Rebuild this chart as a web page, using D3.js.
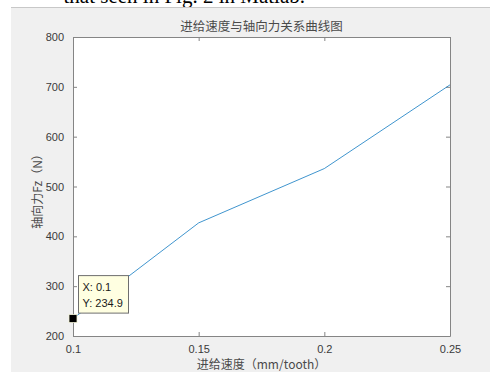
<!DOCTYPE html>
<html>
<head>
<meta charset="utf-8">
<script src="https://cdn.jsdelivr.net/npm/d3@7"></script>
<style>
  html, body { margin: 0; padding: 0; background: #ffffff; }
  svg { display: block; }
</style>
</head>
<body>
<svg id="chart" width="490" height="373"></svg>
<script>
// Feed rate (mm/tooth) against axial force Fz (N)
const feedRates = [0.1, 0.15, 0.2, 0.25];
const axialForce = [234.9, 427, 536, 704];
const xTickValues = [0.1, 0.15, 0.2, 0.25];
const yTickValues = [200, 300, 400, 500, 600, 700, 800];
const titleText = "进给速度与轴向力关系曲线图";
const xLabelText = "进给速度（mm/tooth）";
const yLabelText = "轴向力Fz（N）";
const tipIndex = 0;

const svg = d3.select("#chart");
const W = 490, H = 373;
const plot = { left: 73, right: 450, top: 37, bottom: 336 };
const axisColor = "#858585";
const textColor = "#3a3a3a";
const font = "Helvetica, Arial, 'Liberation Sans', sans-serif";
const cjk = "'Noto Sans CJK SC', sans-serif";

// page strip above the figure window
svg.append("text")
  .attr("x", 305).attr("y", 3)
  .attr("text-anchor", "end")
  .attr("font-family", "'Liberation Serif', 'Times New Roman', serif")
  .attr("font-size", 21)
  .attr("fill", "#000")
  .text("that seen in Fig. 2 in Matlab.");

// figure window background
svg.append("line")
  .attr("x1", 11).attr("x2", W).attr("y1", 7.5).attr("y2", 7.5)
  .attr("stroke", "#c8c8c8");
svg.append("rect")
  .attr("x", 11).attr("y", 8).attr("width", W - 11).attr("height", H - 9)
  .attr("fill", "#f0f0f0");

const x = d3.scaleLinear().domain([0.1, 0.25]).range([plot.left, plot.right]);
const y = d3.scaleLinear().domain([200, 800]).range([plot.bottom, plot.top]);

// axes area
svg.append("rect")
  .attr("x", plot.left).attr("y", plot.top)
  .attr("width", plot.right - plot.left).attr("height", plot.bottom - plot.top)
  .attr("fill", "#ffffff");

const tickLen = 4;
function styleAxis(g) {
  g.select(".domain").attr("stroke", axisColor);
  g.selectAll(".tick line").attr("stroke", axisColor);
  g.selectAll(".tick text")
    .attr("fill", textColor)
    .attr("font-family", font)
    .attr("font-size", 11);
}

const fmt = d => String(d);

svg.append("g")
  .attr("transform", `translate(0,${plot.bottom})`)
  .call(d3.axisBottom(x).tickValues(xTickValues).tickFormat(fmt)
    .tickSizeInner(-tickLen).tickSizeOuter(0).tickPadding(9))
  .call(styleAxis);

svg.append("g")
  .attr("transform", `translate(0,${plot.top})`)
  .call(d3.axisTop(x).tickValues(xTickValues).tickFormat("")
    .tickSizeInner(-tickLen).tickSizeOuter(0))
  .call(styleAxis);

svg.append("g")
  .attr("transform", `translate(${plot.left},0)`)
  .call(d3.axisLeft(y).tickValues(yTickValues).tickFormat(fmt)
    .tickSizeInner(-tickLen).tickSizeOuter(0).tickPadding(9))
  .call(styleAxis);

svg.append("g")
  .attr("transform", `translate(${plot.right},0)`)
  .call(d3.axisRight(y).tickValues(yTickValues).tickFormat("")
    .tickSizeInner(-tickLen).tickSizeOuter(0))
  .call(styleAxis);

svg.selectAll(".domain").attr("stroke-width", 1);

// data line
const pts = feedRates.map((f, i) => [f, axialForce[i]]);
svg.append("path")
  .datum(pts)
  .attr("fill", "none")
  .attr("stroke", "#0072bd")
  .attr("stroke-opacity", 0.75)
  .attr("stroke-width", 1)
  .attr("d", d3.line().x(d => x(d[0])).y(d => y(d[1])));

// title and axis labels
svg.append("text")
  .attr("x", (plot.left + plot.right) / 2).attr("y", 31)
  .attr("text-anchor", "middle")
  .attr("font-family", cjk).attr("font-size", 12.5)
  .attr("fill", "#4a4a4a")
  .text(titleText);

svg.append("text")
  .attr("x", (plot.left + plot.right) / 2).attr("y", 369)
  .attr("text-anchor", "middle")
  .attr("font-family", cjk).attr("font-size", 12)
  .attr("fill", "#4a4a4a")
  .text(xLabelText);

svg.append("text")
  .attr("transform", `translate(42,${(plot.top + plot.bottom) / 2 + 2}) rotate(-90)`)
  .attr("text-anchor", "middle")
  .attr("font-family", cjk).attr("font-size", 12)
  .attr("fill", "#4a4a4a")
  .text(yLabelText);

// data tip on the first point
const tx = x(feedRates[tipIndex]), ty = y(axialForce[tipIndex]);
svg.append("rect")
  .attr("x", tx - 4).attr("y", ty - 4).attr("width", 8).attr("height", 8)
  .attr("fill", "#000").attr("stroke", "#f4f4d8").attr("stroke-width", 0.8);

const box = svg.append("g").attr("transform", `translate(${tx + 5.5},${ty - 43})`);
box.append("rect")
  .attr("x", 0).attr("y", 0).attr("width", 50).attr("height", 37.5)
  .attr("fill", "#ffffe1").attr("stroke", "#6e6e6e").attr("stroke-width", 1);
box.append("text")
  .attr("x", 4).attr("y", 15.5)
  .attr("font-family", font).attr("font-size", 11).attr("fill", "#1a1a1a")
  .text(`X: ${feedRates[tipIndex]}`);
box.append("text")
  .attr("x", 4).attr("y", 31)
  .attr("font-family", font).attr("font-size", 11).attr("fill", "#1a1a1a")
  .text(`Y: ${axialForce[tipIndex]}`);
</script>
</body>
</html>
